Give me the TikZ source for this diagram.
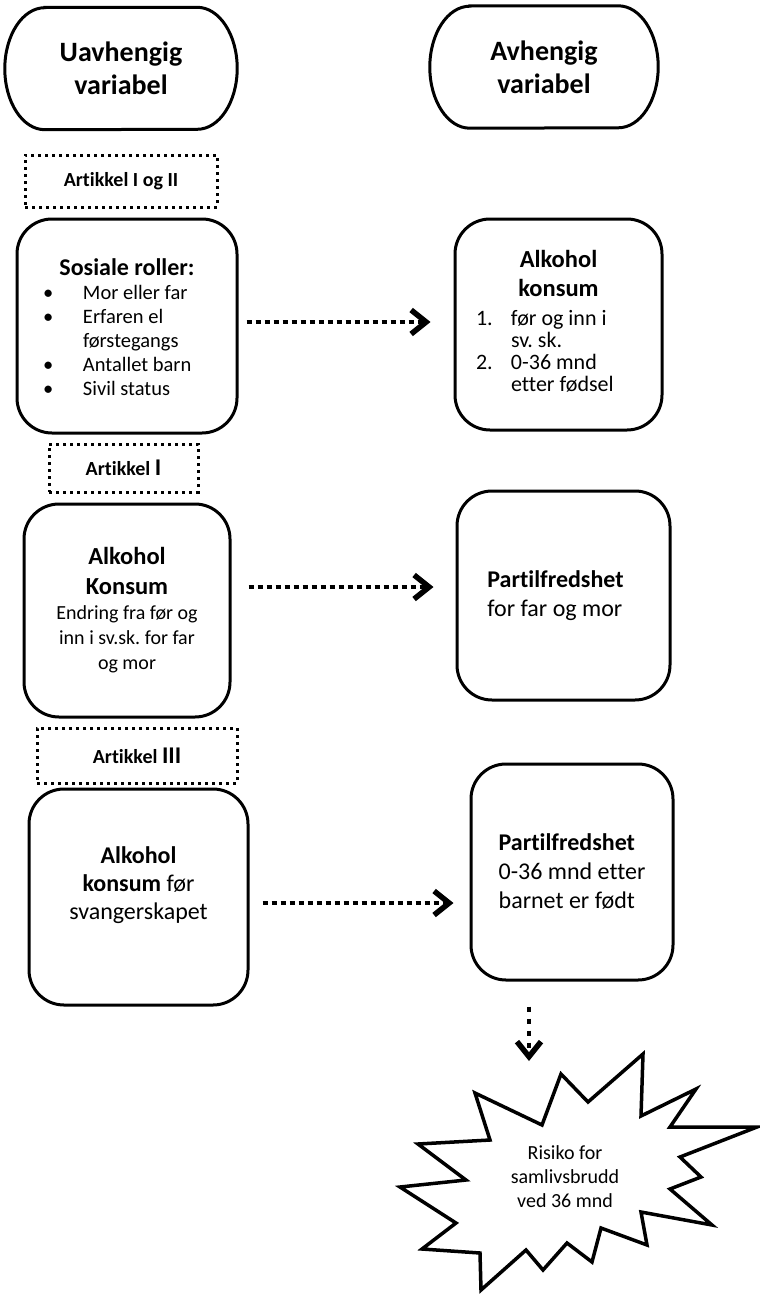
\documentclass[tikz,border=0pt]{standalone}
\usepackage{fontspec}
\setmainfont{Carlito}[Ligatures={NoCommon}]
\usetikzlibrary{arrows.meta}
\frenchspacing

\begin{document}
\begin{tikzpicture}[x=1pt, y=-1pt,
		head/.style={font=\fontsize{28}{33}\selectfont\bfseries, align=center, inner sep=0pt},
		rbox/.style={draw, line width=3pt, rounded corners=35pt, align=center, inner sep=0pt},
		artbox/.style={draw, line width=3pt, dash pattern=on 3pt off 4pt, inner sep=0pt, font=\fontsize{20}{24}\selectfont\bfseries},
		flow/.style={line width=4pt, dash pattern=on 5pt off 4pt, -{Straight Barb[length=15pt, width=24pt, line width=5.5pt]}},
		burst/.style={line width=3.5pt, line join=miter, miter limit=6}]
		\useasboundingbox (0,0) rectangle (760,1298);
		\node[head, minimum width=232pt, minimum height=122pt] (uavh) at (121,68.5) {Uavhengig\\variabel};
		\node[head, minimum width=228pt, minimum height=122pt] (avh) at (544,67) {Avhengig\\variabel};
		\foreach \n in {uavh,avh}
			\draw[line width=3pt] ([xshift=40pt]\n.north west) -- ([xshift=-40pt]\n.north east) arc[start angle=90, end angle=-90, x radius=40pt, y radius=61pt] -- ([xshift=40pt]\n.south west) arc[start angle=270, end angle=90, x radius=40pt, y radius=61pt] -- cycle;
		\node[artbox, minimum width=192pt, minimum height=52pt] (art12) at (121,181) {Artikkel I og II};
		\node[rbox, minimum width=220pt, minimum height=214pt, font=\fontsize{20.5}{24}\selectfont] (roller) at (127,326) {{\fontsize{24}{29}\selectfont\bfseries\rule{0pt}{27pt}Sosiale roller:}\\\makebox[168pt][l]{\begin{tabular}[t]{@{}p{40pt}@{}l@{}}\textbullet & Mor eller far\\\textbullet & Erfaren el\\ & førstegangs\\\textbullet & Antallet barn\\\textbullet & Sivil status\end{tabular}}};
		\node[rbox, minimum width=207pt, minimum height=211pt, font=\fontsize{24.5}{29}\selectfont\bfseries] (konsum) at (558.5,324.5) {Alkohol\\konsum\\\makebox[165pt][l]{\mdseries\fontsize{22}{22}\selectfont\begin{tabular}[t]{@{}p{35pt}@{}l@{}}1. & før og inn i\\ & sv. sk.\\2. & 0-36 mnd\\ & etter fødsel\end{tabular}}};
		\node[artbox, minimum width=149pt, minimum height=48pt] (art1) at (123.5,468) {Artikkel {\fontsize{24}{24}\selectfont I}};
		\node[rbox, minimum width=206pt, minimum height=213pt, font=\fontsize{20}{25}\selectfont] (endring) at (127,610.5) {{\bfseries\fontsize{24.5}{30}\selectfont Alkohol}\\[5pt]{\bfseries\fontsize{24.5}{30}\selectfont Konsum}\\Endring fra før og\\inn i sv.sk. for far\\og mor};
		\node[rbox, minimum width=213pt, minimum height=209pt, align=left, font=\fontsize{24}{28.5}\selectfont] (fredsA) at (563.5,595.5) {\textbf{Partilfredshet}\hspace*{16pt}\\for far og mor};
		\node[artbox, minimum width=200pt, minimum height=55pt] (art3) at (137,755.5) {Artikkel {\fontsize{24}{24}\selectfont III}};
		\node[rbox, minimum width=219pt, minimum height=216pt, font=\fontsize{24}{28}\selectfont] (foer) at (138.5,897) {\textbf{Alkohol}\\\textbf{konsum} før\\svangerskapet\\\mbox{}};
		\node[rbox, minimum width=202pt, minimum height=216pt, align=left, font=\fontsize{24}{29}\selectfont] (fredsB) at (572,872) {\textbf{Partilfredshet}\\0-36 mnd etter\\barnet er født};
		\draw[flow, shorten <=8pt, shorten >=23pt] ([yshift=4pt]roller.east) -- ([yshift=4pt]roller.east -| konsum.west);
		\draw[flow, shorten <=17pt, shorten >=22pt] ([yshift=23.5pt]endring.east) -- ([yshift=23.5pt]endring.east -| fredsA.west);
		\draw[flow, shorten <=13pt, shorten >=16pt] ([yshift=-6pt]foer.east) -- ([yshift=-6pt]foer.east -| fredsB.west);
		\coordinate (pil) at (529,1061);
		\draw[flow, dash pattern=on 5pt off 7pt, shorten <=25pt] ([xshift=-43pt]fredsB.south) -- (pil);
		\draw[burst] (475,1093) -- (542,1125) -- (561,1074) -- (588,1102) -- (643,1054) -- (641,1116) -- (696,1089) -- (670,1127) -- (757,1127) -- (680,1157) -- (701,1177) -- (670,1189) -- (712,1225) -- (641,1212) -- (647,1245) -- (601,1228) -- (592,1262) -- (567,1243) -- (543,1270) -- (526,1250) -- (481,1290) -- (480,1253) -- (422,1249) -- (456,1223) -- (400,1187) -- (466,1180) -- (418,1144) -- (490,1140) -- cycle;
		\node[font=\fontsize{20}{24}\selectfont, align=center] (risiko) at (565,1177) {Risiko for\\samlivsbrudd\\ved 36 mnd};
\end{tikzpicture}
\end{document}
